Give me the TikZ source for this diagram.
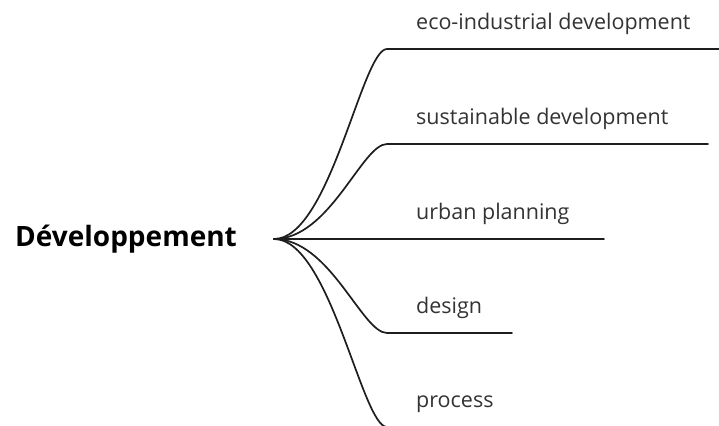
\documentclass[tikz,border=0pt]{standalone}
\usepackage{fontspec}
\setmainfont{Open Sans}
\usetikzlibrary{positioning}
\definecolor{branchgray}{HTML}{1E1E1E}
\definecolor{labelgray}{HTML}{333333}
\tikzset{
	branch/.style={line width=1.7pt, color=branchgray, line cap=round},
	leaf/.style={anchor=base west, inner sep=0pt, text=labelgray, font=\fontsize{21.5}{21.5}\selectfont},
	rootlabel/.style={anchor=base west, inner sep=0pt, text=black, font=\bfseries\fontsize{28}{28}\selectfont}
}

\begin{document}
\begin{tikzpicture}[x=1pt, y=1pt]
			%%%%% START %%%%%
			\useasboundingbox (0, 0) rectangle (719, 425);
			\clip (0, 0) rectangle (719, 425);
			
			\node[rootlabel] (root) at (15, 178) {Développement};
			\coordinate (hub) at (274, 186);
			
			\coordinate (ecoin) at (387, 376);
			\coordinate (ecoout) at (719, 376);
			\coordinate (susin) at (387, 281);
			\coordinate (susout) at (708, 281);
			\coordinate (urbout) at (604, 186);
			\coordinate (desin) at (387, 92);
			\coordinate (desout) at (512, 92);
			\coordinate (proin) at (387, -2);
			\coordinate (proout) at (560, -2);
			
			\node[leaf] (eco) at (416, 395) {eco-industrial development};
			\node[leaf] (sus) at (416, 300) {sustainable development};
			\node[leaf] (urb) at (416, 205) {urban planning};
			\node[leaf] (des) at (416, 111) {design};
			\node[leaf] (pro) at (416, 17) {process};
			
			\draw[branch] (hub) .. controls +(56, 0) and +(-25, 0) .. (ecoin) -- (ecoout);
			\draw[branch] (hub) .. controls +(56, 0) and +(-25, 0) .. (susin) -- (susout);
			\draw[branch] (hub) -- (urbout);
			\draw[branch] (hub) .. controls +(56, 0) and +(-25, 0) .. (desin) -- (desout);
			\draw[branch] (hub) .. controls +(56, 0) and +(-25, 0) .. (proin) -- (proout);
			
			%%%%% END %%%%%
\end{tikzpicture}
\end{document}
